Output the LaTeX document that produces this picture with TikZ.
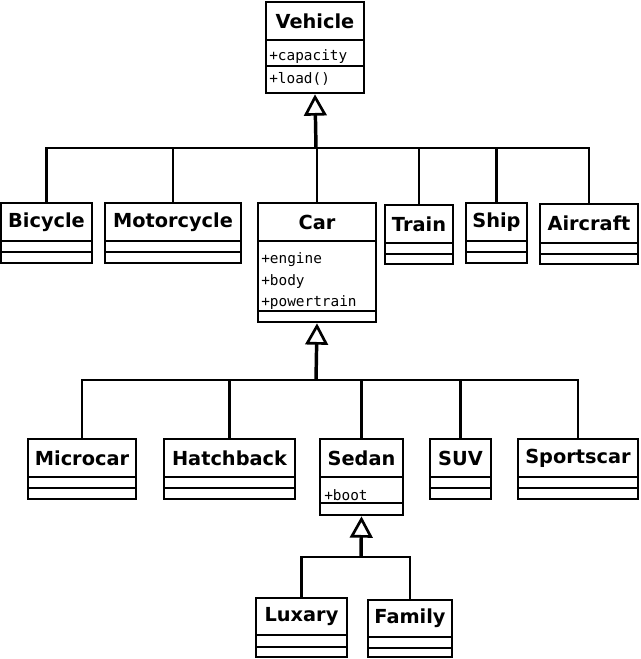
\documentclass[tikz,border=0pt]{standalone}
\usepackage{fontspec}
\setmainfont{DejaVu Sans}
\newfontfamily\attrfont{DejaVu Sans Mono}
\usetikzlibrary{arrows.meta}

\tikzset{
  box/.style={draw, line width=2pt, inner sep=0pt},
  title/.style={font=\bfseries\fontsize{14.5}{16}\selectfont, inner sep=0pt},
  attr/.style={font=\attrfont\fontsize{10.8}{12}\selectfont, anchor=west, inner sep=0pt},
  link/.style={line width=2pt},
  gen/.style={line width=2.6pt, -{Triangle[open, length=16pt, width=17pt, line width=2pt]}}
}

% class box: name, title, x1, y1, x2, y2, first rule, second rule
\newcommand\umlclass[8]{
  \node[box, minimum width={(#5-#3)*0.75pt}, minimum height={(#6-#4)*0.75pt}]
    (#1) at ({(#3+#5)/2},{(#4+#6)/2}) {};
  \draw[link] (#3,#7) -- (#5,#7);
  \draw[link] (#3,#8) -- (#5,#8);
  \node[title] (#1-name) at ({(#3+#5)/2},{(#4+#7)/2}) {#2};
}

\begin{document}
\begin{tikzpicture}[x=0.75pt, y=-0.75pt]
  \useasboundingbox (0,0) rectangle (640,659);

  \umlclass{veh}{Vehicle}{266}{2}{364}{93}{40}{66}
  \node[attr] (vehcap) at (269,57) {+capacity};
  \node[attr] (vehload) at (269,79) {+load()};

  \umlclass{bic}{Bicycle}{1}{203}{92}{263}{241}{252}
  \umlclass{mot}{Motorcycle}{105}{203}{241}{263}{241}{252}
  \umlclass{car}{Car}{258}{203}{376}{322}{241}{311}
  \node[attr] (careng) at (261,260) {+engine};
  \node[attr] (carbody) at (261,282) {+body};
  \node[attr] (carpt) at (261,303) {+powertrain};
  \umlclass{tra}{Train}{385}{205}{453}{264}{243}{254}
  \umlclass{shi}{Ship}{466}{203}{527}{263}{241}{252}
  \umlclass{air}{Aircraft}{540}{204}{638}{264}{243}{254}

  \umlclass{mic}{Microcar}{28}{439}{136}{499}{477}{488}
  \umlclass{hat}{Hatchback}{164}{439}{295}{499}{477}{488}
  \umlclass{sed}{Sedan}{320}{439}{403}{515}{477}{503}
  \node[attr] (sedboot) at (324,495) {+boot};
  \umlclass{suv}{SUV}{430}{439}{491}{499}{477}{488}
  \umlclass{spo}{Sportscar}{518}{439}{638}{499}{477}{488}

  \umlclass{lux}{Luxary}{256}{598}{347}{657}{635}{647}
  \umlclass{fam}{Family}{368}{600}{452}{657}{637}{648}

  % generalisation buses
  \coordinate (bus1) at (316,148);
  \coordinate (bus2) at (316,380);
  \coordinate (bus3) at (361,557);

  \foreach \c in {bic,mot,car,tra,shi,air}
    \draw[link] (\c.north) |- (bus1);
  \draw[gen] (bus1) -- (veh.south);

  \foreach \c in {mic,hat,sed,suv,spo}
    \draw[link] (\c.north) |- (bus2);
  \draw[gen] (bus2) -- (car.south);

  \foreach \c in {lux,fam}
    \draw[link] (\c.north) |- (bus3);
  \draw[gen] (bus3) -- (sed.south);
\end{tikzpicture}
\end{document}
